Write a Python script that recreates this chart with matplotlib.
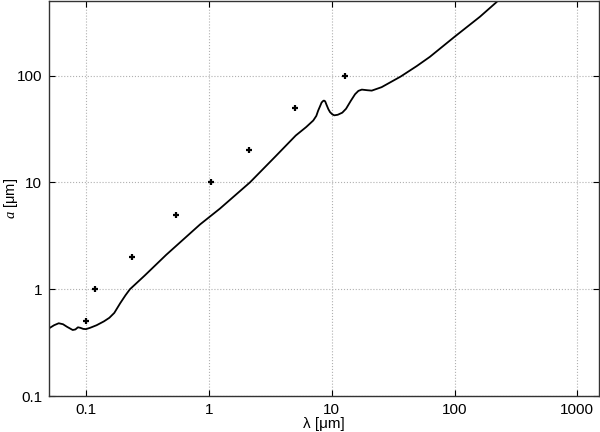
import matplotlib
matplotlib.use("Agg")
import matplotlib.pyplot as plt

# Measured points (lambda, a)
pts_lambda = [0.1, 0.118, 0.237, 0.54, 1.04, 2.12, 5.0, 12.8]
pts_a = [0.5, 1.0, 2.0, 5.0, 10.0, 20.0, 50.0, 100.0]

# Curve (lambda in um, a in um)
curve_lambda = [0.050, 0.055, 0.060, 0.065, 0.070, 0.078, 0.082, 0.086, 0.090,
                0.095, 0.100, 0.108, 0.122, 0.140, 0.155, 0.170, 0.19, 0.21,
                0.228, 0.30, 0.45, 0.85, 1.23, 2.16, 3.5, 5.1, 6.2, 7.08, 7.5,
                7.76, 8.0, 8.28, 8.5, 8.65, 8.85, 9.1, 9.4, 9.7, 10.1, 10.5,
                11.2, 12.2, 13.1, 14.3, 15.5, 16.5, 17.6, 19.5, 21.2, 25.5,
                36.4, 49.3, 63.0, 100.0, 161.0, 221.0, 230.0]
curve_a = [0.43, 0.46, 0.48, 0.47, 0.445, 0.415, 0.42, 0.44, 0.435,
           0.425, 0.423, 0.435, 0.46, 0.50, 0.54, 0.60, 0.74, 0.88,
           1.0, 1.34, 2.1, 4.05, 5.68, 10.0, 17.6, 27.5, 33.0, 38.0, 42.0,
           47.0, 51.0, 56.0, 57.8, 58.4, 57.5, 53.0, 48.5, 45.5, 43.5, 42.5,
           43.0, 45.0, 49.0, 58.0, 67.0, 72.0, 74.0, 73.0, 72.4, 78.0,
           98.0, 123.0, 150.0, 231.0, 356.0, 491.0, 530.0]

x_ticks = [0.1, 1, 10, 100, 1000]
x_ticklabels = ["0.1", "1", "10", "100", "1000"]
y_ticks = [0.1, 1, 10, 100]
y_ticklabels = ["0.1", "1", "10", "100"]

plt.rcParams['font.family'] = ['Liberation Sans', 'DejaVu Sans']
plt.rcParams['mathtext.fontset'] = 'custom'
plt.rcParams['mathtext.it'] = 'Liberation Serif:italic'
plt.rcParams['mathtext.rm'] = 'Liberation Sans'

fig = plt.figure(figsize=(6.0, 4.32), dpi=100)
ax = fig.add_axes([49/600, 36/432, 550/600, 395/432])

ax.plot(curve_lambda, curve_a, color='black', lw=1.3)
ax.plot(pts_lambda, pts_a, linestyle='none', marker='+', color='black',
        markersize=5, markeredgewidth=1.6)

ax.set_xscale('log')
ax.set_yscale('log')
ax.set_xlim(0.05, 1500)
ax.set_ylim(0.1, 500)

ax.set_xticks(x_ticks)
ax.set_xticklabels(x_ticklabels)
ax.set_yticks(y_ticks)
ax.set_yticklabels(y_ticklabels)
ax.minorticks_off()

ax.tick_params(which='major', direction='in', length=4, width=0.8,
               top=True, right=True, labelsize=11, pad=5, colors='black')

ax.grid(True, which='major', linestyle=':', color='#b0b0b0', linewidth=0.8)

for s in ax.spines.values():
    s.set_color('#333333')
    s.set_linewidth(1.0)

ax.set_xlabel('λ [μm]', fontsize=11, labelpad=0)
ax.set_ylabel(r'$a$ [μm]', fontsize=10.5)
ax.yaxis.set_label_coords(-0.053, 0.5)

fig.savefig('out.png', dpi=100)
